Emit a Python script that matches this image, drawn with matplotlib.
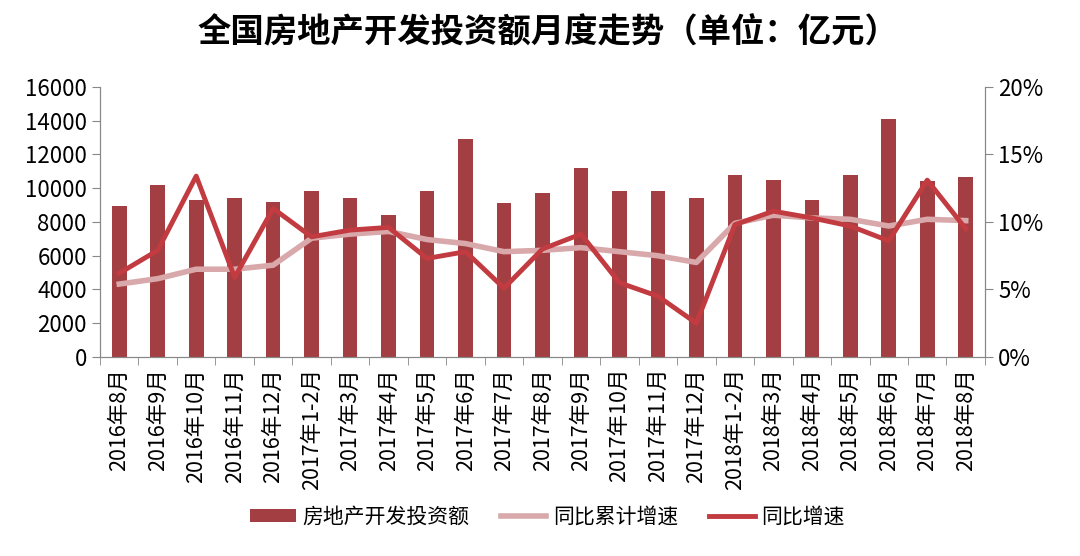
import numpy as np
import matplotlib
matplotlib.use("Agg")
import matplotlib.pyplot as plt
from matplotlib.ticker import FuncFormatter

plt.rcParams['font.family'] = ['Noto Sans CJK SC', 'DejaVu Sans']

months = ["2016年8月", "2016年9月", "2016年10月", "2016年11月", "2016年12月",
          "2017年1-2月", "2017年3月", "2017年4月", "2017年5月", "2017年6月",
          "2017年7月", "2017年8月", "2017年9月", "2017年10月", "2017年11月",
          "2017年12月", "2018年1-2月", "2018年3月", "2018年4月", "2018年5月",
          "2018年6月", "2018年7月", "2018年8月"]
invest = [8970, 10200, 9330, 9410, 9190, 9820, 9410, 8400, 9820, 12940,
          9110, 9720, 11190, 9860, 9860, 9420, 10810, 10460, 9290, 10810,
          14100, 10400, 10670]
cum_growth = [5.4, 5.8, 6.5, 6.5, 6.8, 8.8, 9.1, 9.3, 8.7, 8.4,
              7.8, 7.9, 8.1, 7.8, 7.5, 7.0, 9.9, 10.5, 10.3, 10.2,
              9.7, 10.2, 10.1]
yoy_growth = [6.2, 7.9, 13.4, 5.9, 11.0, 8.9, 9.4, 9.6, 7.3, 7.8,
              5.1, 8.0, 9.1, 5.5, 4.5, 2.5, 9.8, 10.8, 10.3, 9.7,
              8.6, 13.1, 9.5]

bar_c = "#A33F42"
cum_c = "#D8A8AA"
yoy_c = "#C23B40"
axis_c = "#888888"

fig = plt.figure(figsize=(10.8, 5.56), dpi=100)
ax = fig.add_axes([0.0926, 0.358, 0.912 - 0.0926, 0.8435 - 0.358])
ax2 = ax.twinx()

x = np.arange(len(months))
ax.bar(x, invest, width=0.38, color=bar_c, label="房地产开发投资额", zorder=2)
ax2.plot(x, cum_growth, color=cum_c, lw=4, label="同比累计增速", zorder=3)
ax2.plot(x, yoy_growth, color=yoy_c, lw=3.5, label="同比增速", zorder=4)

ax.set_xlim(-0.5, len(months) - 0.5)
ax.set_ylim(0, 16000)
ax.set_yticks(range(0, 16001, 2000))
ax2.set_ylim(0, 20)
ax2.set_yticks(range(0, 21, 5))
ax2.yaxis.set_major_formatter(FuncFormatter(lambda v, p: f"{int(v)}%"))

ax.set_xticks(x)
ax.set_xticklabels(months, rotation=90, fontsize=15.5)
ax.set_xticks(np.arange(-0.5, len(months), 1), minor=True)
ax.tick_params(axis='x', which='major', length=0, pad=8)
ax.tick_params(axis='x', which='minor', length=6, color=axis_c, direction='out')
ax.tick_params(axis='y', labelsize=16, length=6, color=axis_c)
ax2.tick_params(axis='y', labelsize=16, length=6, color=axis_c)

for a in (ax, ax2):
    a.spines['top'].set_visible(False)
    for s in ('left', 'right', 'bottom'):
        a.spines[s].set_color(axis_c)
ax.set_zorder(ax2.get_zorder() - 1)
ax2.patch.set_visible(False)
ax.patch.set_visible(False)

fig.text(0.507, 0.94, "全国房地产开发投资额月度走势（单位：亿元）", ha='center', va='center',
         fontsize=24, fontweight='bold')

h1, l1 = ax.get_legend_handles_labels()
h2, l2 = ax2.get_legend_handles_labels()
fig.legend(h1 + h2, l1 + l2, loc='center', bbox_to_anchor=(0.507, 0.07), ncol=3,
           frameon=False, fontsize=15, handlelength=2.2, handleheight=0.6,
           columnspacing=1.5, handletextpad=0.3)

fig.savefig("out.png", dpi=100)
